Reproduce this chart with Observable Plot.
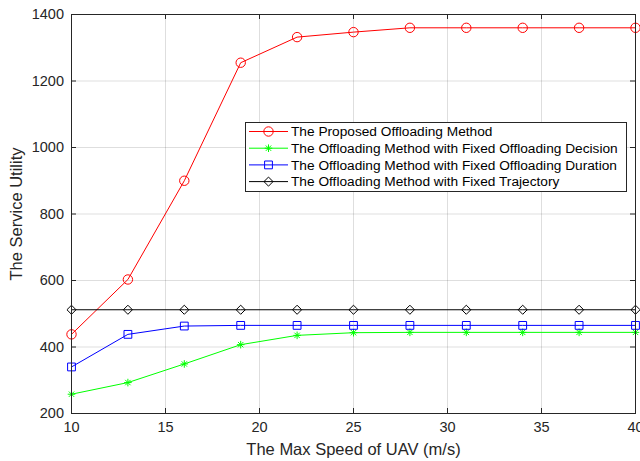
<!DOCTYPE html>
<html><head><meta charset="utf-8">
<script src="https://cdn.jsdelivr.net/npm/d3@7"></script>
<script src="https://cdn.jsdelivr.net/npm/@observablehq/plot@0.6"></script>
<style>
body{margin:0;background:#fff;font-family:"Liberation Sans",Arial,sans-serif;}
#wrap{position:relative;width:640px;height:461px;}
#legend{position:absolute;left:245px;top:122px;}
</style>
</head><body>
<div id="wrap"><div id="chart"></div><div id="legend"></div></div>
<script>
const speeds = [10, 13, 16, 19, 22, 25, 28, 31, 34, 37, 40];
const proposed = [438, 603, 900, 1255, 1332, 1347, 1360, 1360, 1360, 1360, 1360];
const fixedDecision = [258, 293, 349, 407, 435, 443, 444, 444, 444, 444, 444];
const fixedDuration = [340, 438, 463, 465, 465, 465, 465, 465, 465, 465, 465];
const fixedTrajectory = [512, 512, 512, 512, 512, 512, 512, 512, 512, 512, 512];
const seriesNames = [
  "The Proposed Offloading Method",
  "The Offloading Method with Fixed Offloading Decision",
  "The Offloading Method with Fixed Offloading Duration",
  "The Offloading Method with Fixed Trajectory"
];
const xTicks = [10, 15, 20, 25, 30, 35, 40];
const yTicks = [200, 400, 600, 800, 1000, 1200, 1400];
const xLabel = "The Max Speed of UAV (m/s)";
const yLabel = "The Service Utility";

// 8-arm asterisk like MATLAB '*'
const star8 = {
  draw(ctx, size) {
    const r = Math.sqrt(size / Math.PI);
    const d = r * Math.SQRT1_2;
    ctx.moveTo(-r, 0); ctx.lineTo(r, 0);
    ctx.moveTo(0, -r); ctx.lineTo(0, r);
    ctx.moveTo(-d, -d); ctx.lineTo(d, d);
    ctx.moveTo(-d, d); ctx.lineTo(d, -d);
  }
};

const styles = [
  {values: proposed, color: "#ff0000", symbol: "circle", r: 4.7},
  {values: fixedDecision, color: "#00ff00", symbol: star8, r: 3.8},
  {values: fixedDuration, color: "#0000ff", symbol: "square", r: 4.4},
  {values: fixedTrajectory, color: "#000000", symbol: "diamond2", r: 4.1}
];

const W = 640, H = 461, mL = 71, mR = 5, mT = 14, mB = 48;
const iw = W - mL - mR, ih = H - mT - mB;
const axisColor = "#262626";
const font = '"Liberation Sans", Arial, sans-serif';

const marks = [
  Plot.gridX(xTicks, {stroke: "#000", strokeOpacity: 0.13}),
  Plot.gridY(yTicks, {stroke: "#000", strokeOpacity: 0.13})
];
styles.forEach((s, k) => {
  const data = speeds.map((x, i) => ({x, y: s.values[i]}));
  marks.push(Plot.line(data, {x: "x", y: "y", stroke: s.color, strokeWidth: 1}));
  marks.push(Plot.dot(data, {x: "x", y: "y", stroke: s.color, fill: "none", symbol: s.symbol, r: s.r, strokeWidth: 1}));
});
marks.push(
  Plot.tickX(xTicks, {x: d => d, stroke: axisColor, insetTop: ih - 5}),
  Plot.tickX(xTicks, {x: d => d, stroke: axisColor, insetBottom: ih - 5}),
  Plot.tickY(yTicks, {y: d => d, stroke: axisColor, insetRight: iw - 5}),
  Plot.tickY(yTicks, {y: d => d, stroke: axisColor, insetLeft: iw - 5}),
  Plot.frame({stroke: axisColor, strokeWidth: 1}),
  Plot.axisX(xTicks, {anchor: "bottom", tickSize: 0, tickPadding: 8, fontSize: 14.5, color: axisColor, tickFormat: "d", label: null}),
  Plot.axisX({anchor: "bottom", ticks: [], tickSize: 0, fontSize: 16.5, color: axisColor, label: xLabel, labelAnchor: "center", labelOffset: 41, labelArrow: "none"}),
  Plot.axisY(yTicks, {anchor: "left", tickSize: 0, tickPadding: 7.5, fontSize: 14.5, color: axisColor, tickFormat: "d", label: null}),
  Plot.axisY({anchor: "left", ticks: [], tickSize: 0, fontSize: 16.5, color: axisColor, label: yLabel, labelAnchor: "center", labelOffset: 61, labelArrow: "none"})
);

const chart = Plot.plot({
  width: W, height: H,
  marginLeft: mL, marginRight: mR, marginTop: mT, marginBottom: mB,
  style: {fontFamily: font, fontSize: "14.5px", color: axisColor, background: "#fff"},
  x: {domain: [10, 40]},
  y: {domain: [200, 1400]},
  marks
});
document.getElementById("chart").appendChild(chart);

// Legend
const lw = 382, lh = 70, rowH = 16.7, row0 = 9.5;
const svg = d3.select("#legend").append("svg").attr("width", lw).attr("height", lh)
  .style("font-family", font);
svg.append("rect").attr("x", 0.5).attr("y", 0.5).attr("width", lw - 1).attr("height", lh - 1)
  .attr("fill", "#fff").attr("stroke", axisColor);
styles.forEach((s, k) => {
  const y = row0 + k * rowH;
  const g = svg.append("g");
  g.append("line").attr("x1", 4).attr("x2", 43).attr("y1", y).attr("y2", y).attr("stroke", s.color).attr("stroke-width", 1);
  const sym = typeof s.symbol === "string" ? {circle: d3.symbolCircle, square: d3.symbolSquare, diamond2: d3.symbolDiamond2}[s.symbol] : s.symbol;
  g.append("path").attr("d", d3.symbol(sym, s.r * s.r * Math.PI)()).attr("transform", `translate(23.5,${y})`)
    .attr("fill", "none").attr("stroke", s.color);
  g.append("text").attr("x", 46).attr("y", y).attr("dy", "0.35em").attr("font-size", 13.7).attr("fill", "#000").text(seriesNames[k]);
});
</script>
</body></html>
